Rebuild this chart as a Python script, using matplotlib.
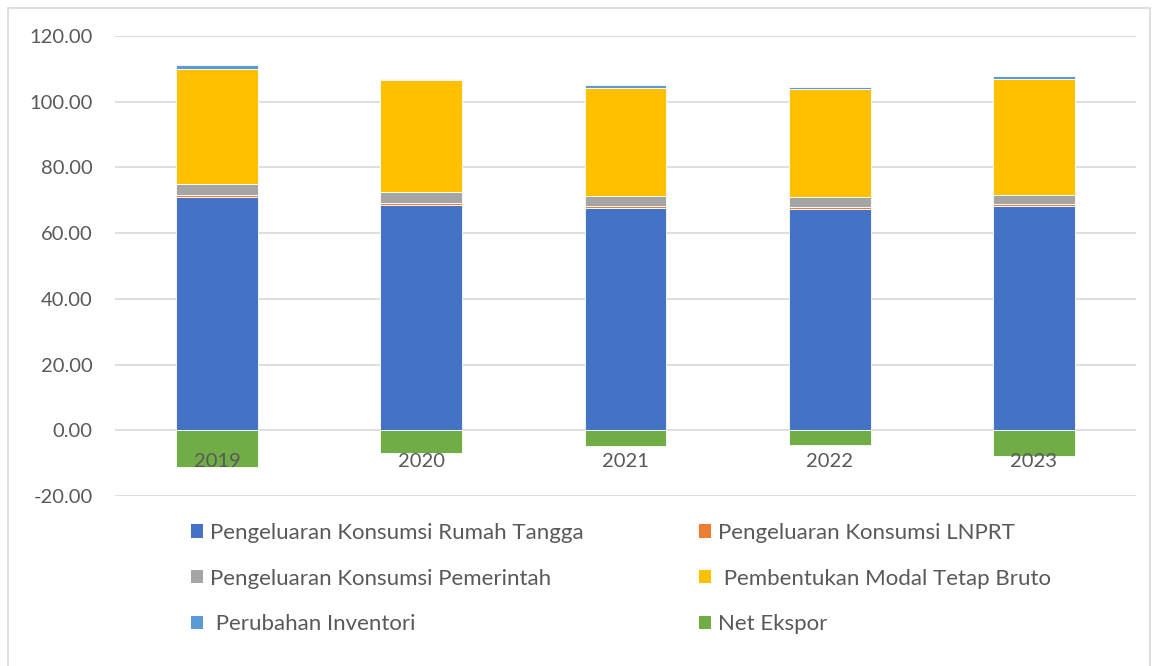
import numpy as np
import matplotlib
matplotlib.use('Agg')
import matplotlib.pyplot as plt
from matplotlib.patches import Patch, Rectangle

years = ['2019', '2020', '2021', '2022', '2023']
rumah_tangga = [70.9, 68.7, 67.6, 67.5, 68.4]
lnprt = [0.6, 0.5, 0.7, 0.6, 0.5]
pemerintah = [3.4, 3.2, 2.9, 2.8, 2.7]
pmtb = [35.1, 34.2, 33.1, 32.9, 35.3]
inventori = [1.2, 0.3, 0.8, 0.8, 0.9]
net_ekspor = [-11.1, -7.0, -4.9, -4.5, -7.7]

labels = ['Pengeluaran Konsumsi Rumah Tangga', 'Pengeluaran Konsumsi LNPRT',
          'Pengeluaran Konsumsi Pemerintah', ' Pembentukan Modal Tetap Bruto',
          ' Perubahan Inventori', 'Net Ekspor']
colors = ['#4472C4', '#ED7D31', '#A5A5A5', '#FFC000', '#5B9BD5', '#70AD47']

plt.rcParams['font.family'] = ['Lato', 'DejaVu Sans']

fig = plt.figure(figsize=(11.58, 6.66), dpi=100)
ax = fig.add_axes([115 / 1158, 1 - 496 / 666, 1021 / 1158, 460 / 666])

x = np.arange(len(years))
w = 0.4
pos = [rumah_tangga, lnprt, pemerintah, pmtb, inventori]
bottom = np.zeros(len(years))
for vals, c in zip(pos, colors[:5]):
    ax.bar(x, vals, w, bottom=bottom, color=c, edgecolor='white', linewidth=0.6, zorder=3)
    bottom += np.array(vals)
ax.bar(x, net_ekspor, w, color=colors[5], edgecolor='white', linewidth=0.6, zorder=3)

ax.set_xlim(-0.5, len(years) - 0.5)
ax.set_ylim(-20, 120)
ax.set_yticks(np.arange(-20, 121, 20))
ax.set_yticklabels(['%.2f' % v for v in np.arange(-20, 121, 20)])
ax.grid(axis='y', color='#d9d9d9', linewidth=1.2, zorder=0)
ax.set_xticks([])
for s in ax.spines.values():
    s.set_visible(False)
ax.tick_params(axis='y', length=0, pad=16, labelsize=14.5, labelcolor='#595959')

for i, yr in enumerate(years):
    ax.text(i, -9.6, yr, ha='center', va='center', fontsize=14.5, color='#595959', zorder=4)

handles = [Patch(facecolor=c) for c in colors]
order = [0, 2, 4, 1, 3, 5]
fig.legend([handles[i] for i in order], [labels[i] for i in order], ncol=2,
           loc='upper left', bbox_to_anchor=(171 / 1158, 1 - 503 / 666),
           frameon=False, fontsize=16, labelcolor='#595959',
           handlelength=0.55, handleheight=0.55, handletextpad=0.3,
           columnspacing=5.2, labelspacing=1.15)

fig.patches.append(Rectangle((8 / 1158, -0.01), 1142 / 1158, 1 - 8 / 666 + 0.01,
                             transform=fig.transFigure, fill=False,
                             edgecolor='#d9d9d9', linewidth=1.2))

fig.savefig('out.png', dpi=100)
